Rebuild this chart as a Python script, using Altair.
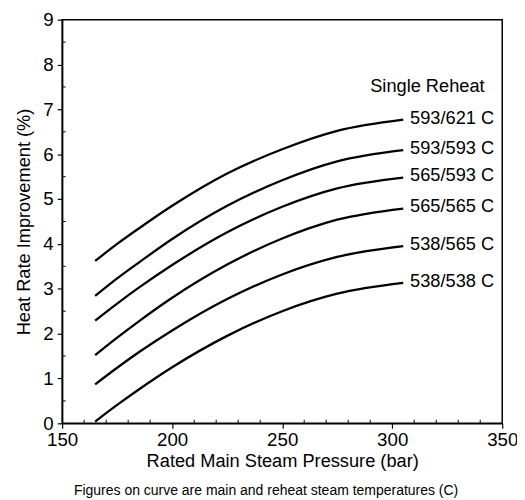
import altair as alt
import pandas as pd

# ---- data ----
pressure = [165, 175, 185, 200, 225, 250, 275, 305]
series_names = ["593/621 C", "593/593 C", "565/593 C", "565/565 C", "538/565 C", "538/538 C"]
s_593_621 = [3.62, 4.00, 4.35, 4.85, 5.57, 6.11, 6.52, 6.77]
s_593_593 = [2.84, 3.23, 3.59, 4.11, 4.85, 5.42, 5.84, 6.09]
s_565_593 = [2.29, 2.67, 3.03, 3.53, 4.26, 4.83, 5.24, 5.48]
s_565_565 = [1.52, 1.91, 2.28, 2.80, 3.54, 4.12, 4.54, 4.79]
s_538_565 = [0.87, 1.24, 1.59, 2.07, 2.77, 3.32, 3.71, 3.95]
s_538_538 = [0.04, 0.41, 0.76, 1.25, 1.95, 2.50, 2.89, 3.13]
series_values = [s_593_621, s_593_593, s_565_593, s_565_565, s_538_565, s_538_538]

x_major = [150, 200, 250, 300, 350]
x_minor = [160, 170, 180, 190, 210, 220, 230, 240, 260, 270, 280, 290, 310, 320, 330, 340]
y_major = [0, 1, 2, 3, 4, 5, 6, 7, 8, 9]
y_minor = [0.5, 1.5, 2.5, 3.5, 4.5, 5.5, 6.5, 7.5, 8.5]

header_text = ["Single Reheat"]
header_x = [290.0]
header_y = [7.51]

caption = "Figures on curve are main and reheat steam temperatures (C)"

FONT = "Liberation Sans"

rows = []
for name, vals in zip(series_names, series_values):
    for p, v in zip(pressure, vals):
        rows.append({"series": name, "pressure": p, "hr": v})
df = pd.DataFrame(rows)

ends = pd.DataFrame({
    "series": series_names,
    "pressure": [pressure[-1]] * len(series_names),
    "hr": [vals[-1] for vals in series_values],
})
header = pd.DataFrame({"label": header_text, "pressure": header_x, "hr": header_y})
xminor_df = pd.DataFrame({"pressure": x_minor})
yminor_df = pd.DataFrame({"hr": y_minor})

xscale = alt.Scale(domain=[150, 350], nice=False, zero=False)
yscale = alt.Scale(domain=[0, 9], nice=False)

x_enc = alt.X("pressure:Q", scale=xscale,
              axis=alt.Axis(values=x_major, title="Rated Main Steam Pressure (bar)",
                            format="d", grid=False, tickSize=5, labelPadding=3,
                            titlePadding=2, labelFlush=False))
y_enc = alt.Y("hr:Q", scale=yscale,
              axis=alt.Axis(values=y_major, title="Heat Rate Improvement (%)",
                            format="d", grid=False, tickSize=5, labelPadding=4,
                            titlePadding=10, labelFlush=False))

lines = alt.Chart(df).mark_line(color="black", strokeWidth=2.3, interpolate="monotone").encode(
    x=x_enc, y=y_enc, detail="series:N"
)

labels = alt.Chart(ends).mark_text(align="left", baseline="middle", dx=7, dy=-2,
                                   fontSize=18.5, font=FONT, color="black").encode(
    x=alt.X("pressure:Q", scale=xscale), y=alt.Y("hr:Q", scale=yscale), text="series:N"
)

head = alt.Chart(header).mark_text(align="left", baseline="middle",
                                   fontSize=18.5, font=FONT, color="black").encode(
    x=alt.X("pressure:Q", scale=xscale), y=alt.Y("hr:Q", scale=yscale), text="label:N"
)

xminor = alt.Chart(xminor_df).mark_rule(color="black", strokeWidth=1).encode(
    x=alt.X("pressure:Q", scale=xscale), y=alt.datum(0), y2=alt.datum(0.08)
)
yminor = alt.Chart(yminor_df).mark_rule(color="black", strokeWidth=1).encode(
    y=alt.Y("hr:Q", scale=yscale), x=alt.datum(150), x2=alt.datum(151.6)
)

chart = alt.layer(lines, xminor, yminor, labels, head).properties(
    width=447, height=410,
    autosize=alt.AutoSizeParams(type="none"),
    padding={"left": 55, "top": 8, "right": 15, "bottom": 74},
    title=alt.TitleParams(text=caption, orient="bottom", anchor="middle", frame="bounds",
                          fontSize=14.2, font=FONT, fontWeight="normal", color="black",
                          offset=14),
).configure_view(stroke="black", strokeWidth=1.5).configure_axis(
    domainColor="black", domainWidth=1.5, tickColor="black", tickWidth=1.2,
    labelFont=FONT, labelFontSize=19, labelColor="black",
    titleFont=FONT, titleFontSize=18.5, titleFontWeight="normal", titleColor="black",
)

chart.save("out.html", embed_options={"renderer": "svg", "actions": False})
